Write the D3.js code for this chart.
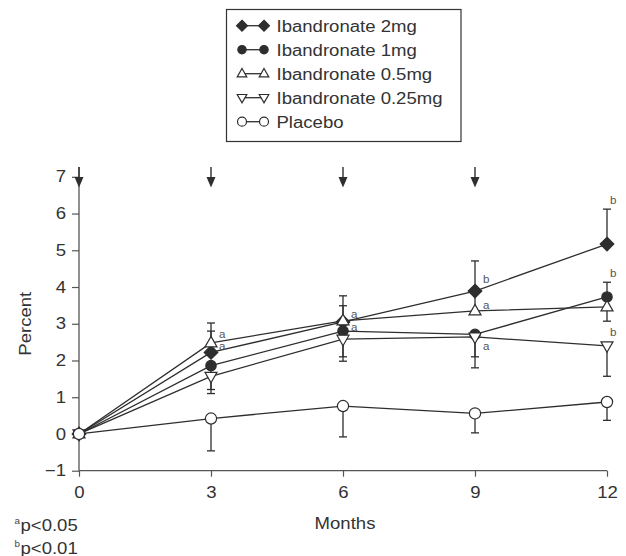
<!DOCTYPE html>
<html>
<head>
<meta charset="utf-8">
<script src="https://cdn.jsdelivr.net/npm/d3@7"></script>
<style>
  html, body { margin: 0; padding: 0; background: #fff; }
  svg { display: block; }
  text { font-family: "Liberation Sans", Arial, Helvetica, sans-serif; fill: #333; }
</style>
</head>
<body>
<svg id="chart" width="626" height="556"></svg>
<script>
// ---------------- data ----------------
const months = [0, 3, 6, 9, 12];
const xTicks = [0, 3, 6, 9, 12];
const yTicks = [-1, 0, 1, 2, 3, 4, 5, 6, 7];
const seriesNames = ["Ibandronate 2mg", "Ibandronate 1mg", "Ibandronate 0.5mg", "Ibandronate 0.25mg", "Placebo"];
const ib2 = [0, 2.22, 3.05, 3.89, 5.17];
const ib1 = [0, 1.86, 2.80, 2.71, 3.73];
const ib05 = [0, 2.48, 3.08, 3.35, 3.46];
const ib025 = [0, 1.57, 2.58, 2.64, 2.40];
const placebo = [0, 0.42, 0.76, 0.56, 0.87];
// error bar end values (null = no bar)
const ib2Err = [null, 2.80, 3.49, 4.71, 6.12];
const ib1Err = [null, 1.21, 2.10, 2.10, 4.13];
const ib05Err = [null, 3.02, 3.76, 3.85, 3.07];
const ib025Err = [null, 1.10, 1.98, 1.80, 1.57];
const placeboErr = [null, -0.46, -0.08, 0.03, 0.37];
// dosing arrows
const arrowMonths = [0, 3, 6, 9];
// significance annotations
const annoMonths = [3, 3, 6, 6, 9, 9, 9, 12, 12, 12];
const annoValues = [2.71, 2.37, 3.26, 2.91, 4.21, 3.51, 2.39, 6.35, 4.38, 2.75];
const annoLabels = ["a", "a", "a", "a", "b", "a", "a", "b", "b", "b"];
const footnotes = [["a", "p<0.05"], ["b", "p<0.01"]];

// ---------------- setup ----------------
const SX = 1.16; // horizontal text stretch
const ink = "#2e2e2e";
const svg = d3.select("#chart");
const x = d3.scaleLinear().domain([0, 12]).range([79, 607]);
const y = d3.scaleLinear().domain([-1, 7]).range([470.7, 176.8]);

function addText(g, px, py, str, size, anchor, extra) {
  const t = g.append("text")
    .attr("transform", `translate(${px},${py}) scale(${SX},1)` + (extra || ""))
    .attr("font-size", size)
    .attr("text-anchor", anchor || "start")
    .text(str);
  return t;
}

// ---------------- axes ----------------
const yAxis = svg.append("g").attr("transform", `translate(${x(0)},0)`)
  .call(d3.axisLeft(y).tickValues(yTicks).tickSize(7).tickPadding(6).tickSizeOuter(0));
const xAxis = svg.append("g").attr("transform", `translate(0,${y(-1)})`)
  .call(d3.axisBottom(x).tickValues(xTicks).tickSize(6).tickPadding(10.4).tickSizeOuter(0));
[yAxis, xAxis].forEach(g => {
  g.select(".domain").remove();
  g.selectAll(".tick line").attr("stroke", "#555").attr("stroke-width", 1.2);
  g.selectAll(".tick text").each(function () {
    const t = d3.select(this);
    const tx = +t.attr("x") || 0;
    const ty = +t.attr("y") || 0;
    t.attr("x", 0).attr("y", 0)
     .attr("transform", `translate(${tx},${ty}) scale(${SX},1)`)
     .attr("font-size", 16).attr("font-family", null).style("fill", "#333");
  });
});
svg.append("line").attr("x1", x(0)).attr("x2", x(0)).attr("y1", y(-1)).attr("y2", y(7.27))
  .attr("stroke", "#555").attr("stroke-width", 1.3);
svg.append("line").attr("x1", x(0)).attr("x2", x(12)).attr("y1", y(-1)).attr("y2", y(-1))
  .attr("stroke", "#555").attr("stroke-width", 1.3);

// axis titles
addText(svg, x(6) + 2, 529, "Months", 16, "middle");
svg.append("text")
  .attr("transform", `translate(30.5,${(y(-1) + y(7)) / 2}) rotate(-90) scale(${SX},1)`)
  .attr("font-size", 16).attr("text-anchor", "middle").text("Percent");

// arrows
arrowMonths.forEach(m => {
  const ax = x(m);
  svg.append("line").attr("x1", ax).attr("x2", ax).attr("y1", 167).attr("y2", 180)
    .attr("stroke", ink).attr("stroke-width", 1.4);
  svg.append("path").attr("d", `M${ax - 4.5},177 L${ax + 4.5},177 L${ax},187.5 Z`).attr("fill", ink);
});

// ---------------- series ----------------
const shapes = {
  diamond: "M0,-6.8 L6.8,0 L0,6.8 L-6.8,0 Z",
  triUp: "M0,-6.5 L6,4 L-6,4 Z",
  triDown: "M0,6.5 L6,-4 L-6,-4 Z"
};
const series = [
  { name: seriesNames[0], vals: ib2, err: ib2Err, shape: "diamond", fill: ink },
  { name: seriesNames[1], vals: ib1, err: ib1Err, shape: "circle", fill: ink, r: 5.2 },
  { name: seriesNames[2], vals: ib05, err: ib05Err, shape: "triUp", fill: "#fff" },
  { name: seriesNames[3], vals: ib025, err: ib025Err, shape: "triDown", fill: "#fff" },
  { name: seriesNames[4], vals: placebo, err: placeboErr, shape: "circle", fill: "#fff", r: 5.6 }
];

const line = d3.line().x((d, i) => x(months[i])).y(d => y(d));
const gErr = svg.append("g");
const gLines = svg.append("g");
const gMarks = svg.append("g");

series.forEach(s => {
  s.err.forEach((e, i) => {
    if (e === null) return;
    const px = x(months[i]);
    gErr.append("line").attr("x1", px).attr("x2", px).attr("y1", y(s.vals[i])).attr("y2", y(e))
      .attr("stroke", ink).attr("stroke-width", 1.3);
    gErr.append("line").attr("x1", px - 4).attr("x2", px + 4).attr("y1", y(e)).attr("y2", y(e))
      .attr("stroke", ink).attr("stroke-width", 1.3);
  });
  gLines.append("path").datum(s.vals).attr("d", line).attr("fill", "none")
    .attr("stroke", ink).attr("stroke-width", 1.3);
});

function drawMarker(g, s, px, py, scale) {
  const k = scale || 1;
  if (s.shape === "circle") {
    g.append("circle").attr("cx", px).attr("cy", py).attr("r", s.r * k)
      .attr("fill", s.fill).attr("stroke", ink).attr("stroke-width", 1.2);
  } else {
    g.append("path").attr("d", shapes[s.shape])
      .attr("transform", `translate(${px},${py}) scale(${k})`)
      .attr("fill", s.fill).attr("stroke", ink).attr("stroke-width", 1.2 / k);
  }
}
const drawOrder = [1, 0, 2, 3, 4];
drawOrder.forEach(si => {
  const s = series[si];
  s.vals.forEach((v, i) => drawMarker(gMarks, s, x(months[i]), y(v)));
});

// annotations
annoLabels.forEach((lab, i) => {
  const m = annoMonths[i];
  const dx = m === 12 ? 3 : 8;
  addText(svg, x(m) + dx, y(annoValues[i]) + 3.5, lab, 10, "start").style("fill", "#555");
});

// ---------------- legend ----------------
const lg = svg.append("g");
lg.append("rect").attr("x", 226.5).attr("y", 9.5).attr("width", 234.5).attr("height", 132)
  .attr("fill", "#fff").attr("stroke", "#333").attr("stroke-width", 1.2);
series.forEach((s, i) => {
  const base = 31.7 + 24 * i;
  const cy = base - 6;
  lg.append("line").attr("x1", 242).attr("x2", 264).attr("y1", cy).attr("y2", cy)
    .attr("stroke", ink).attr("stroke-width", 1.3);
  drawMarker(lg, s, 242, cy, 0.8);
  drawMarker(lg, s, 264, cy, 0.8);
  addText(lg, 276.5, base, s.name, 16, "start");
});

// footnotes
footnotes.forEach((f, i) => {
  const base = 530.5 + 23 * i;
  addText(svg, 14.5, base - 6.5, f[0], 8.5, "start").style("fill", "#444");
  addText(svg, 20.5, base, f[1], 16, "start");
});
</script>
</body>
</html>
